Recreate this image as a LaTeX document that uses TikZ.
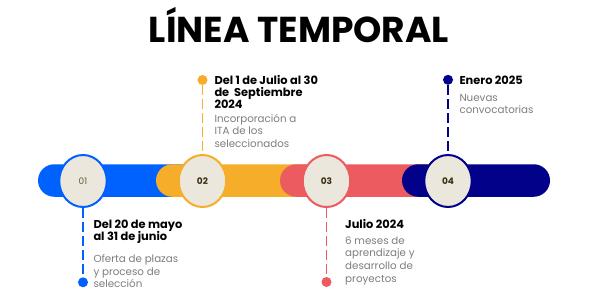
\documentclass[tikz,border=0pt]{standalone}
\usepackage{fontspec}
\setmainfont{Poppins}
\usetikzlibrary{shapes.geometric}
\definecolor{cblue}{HTML}{0062FE}
\definecolor{cyel}{HTML}{F6AD2A}
\definecolor{cred}{HTML}{EB5B60}
\definecolor{cnavy}{HTML}{01018A}
\definecolor{cbeige}{HTML}{EBE7DC}
\definecolor{ctxt}{HTML}{7D7D7D}
\definecolor{cnum}{HTML}{3B2E12}
\definecolor{cnumlight}{HTML}{6A5A3A}
\newcommand{\myblock}[1]{\begin{tabular}[t]{@{}l@{}}#1\end{tabular}}
\begin{document}
\begin{tikzpicture}[x=1pt,y=-1pt,
  bar/.style={rounded corners=16.25pt},
  stop/.style={ellipse, draw, line width=2pt, fill=cbeige, minimum width=47.5pt, minimum height=52pt, inner sep=0pt, font=\bfseries\fontsize{9}{9}\selectfont, text=cnum},
  dot/.style={circle, fill, minimum size=10pt, inner sep=0pt},
  link/.style={line width=1.8pt, dash pattern=on 10pt off 4pt},
  head/.style={anchor=base west, inner sep=0pt, font=\bfseries\fontsize{11.4}{11.4}\selectfont, text=black},
  body/.style={anchor=base west, inner sep=0pt, font=\fontsize{10.3}{12.7}\selectfont, text=ctxt}]
\useasboundingbox (0,0) rectangle (600,300);

% title
\node[anchor=base, inner sep=0pt, font=\bfseries\fontsize{36}{36}\selectfont] (title) at (299,42) {LÍNEA TEMPORAL};

% bars
\fill[cblue, bar] (38,164.25) rectangle (200,196.75);
\fill[cyel, bar] (156,164.25) rectangle (320,196.75);
\fill[cred, bar] (280,164.25) rectangle (440,196.75);
\fill[cnavy, bar] (402,164.25) rectangle (550,196.75);

% stops
\node[stop, draw=cblue, font=\fontsize{9}{9}\selectfont, text=cnumlight] (c1) at (83,181) {01};
\node[stop, draw=cyel] (c2) at (202.5,181) {02};
\node[stop, draw=cred] (c3) at (326.5,181) {03};
\node[stop, draw=cnavy] (c4) at (448,181) {04};

% dots
\node[dot, fill=cblue] (d1) at (83,282.3) {};
\node[dot, fill=cyel] (d2) at (202.5,80) {};
\node[dot, fill=cred] (d3) at (326.5,282) {};
\node[dot, fill=cnavy] (d4) at (448,79.8) {};

% connectors
\draw[link, cblue] (c1) -- (d1);
\draw[link, cyel] (d2) -- (c2);
\draw[link, cred] (c3) -- (d3);
\draw[link, cnavy] (d4) -- (c4);

% texts
\node[head, font=\bfseries\fontsize{11.4}{11.3}\selectfont] (h2) at (214.3,84.3) {\myblock{Del 1 de Julio al 30\\de\ \ Septiembre\\2024}};
\node[body, font=\fontsize{10.3}{12.5}\selectfont] (b2) at (214.3,122.3) {\myblock{Incorporación a\\ITA de los\\seleccionados}};
\node[head] (h4) at (459.3,84.3) {Enero 2025};
\node[body] (b4) at (459.3,101) {\myblock{Nuevas\\convocatorias}};
\node[head, font=\bfseries\fontsize{11.4}{10.4}\selectfont] (h1) at (93.3,228.3) {\myblock{Del 20 de mayo\\al 31 de junio}};
\node[body] (b1) at (93.3,262.3) {\myblock{Oferta de plazas\\y proceso de\\selección}};
\node[head] (h3) at (345,228.3) {Julio 2024};
\node[body, font=\fontsize{10.3}{12.9}\selectfont] (b3) at (345,244) {\myblock{6 meses de\\aprendizaje y\\desarrollo de\\proyectos}};
\end{tikzpicture}
\end{document}
